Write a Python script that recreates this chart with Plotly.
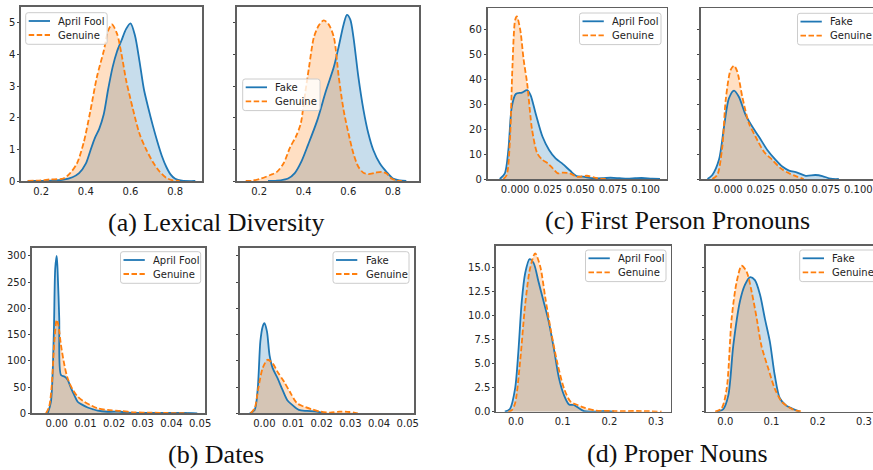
import plotly.graph_objects as go

W, H = 873, 470

# ---------------- data ----------------
# (a) Lexical Diversity
lex_af_x = [0.14, 0.25, 0.30, 0.34, 0.37, 0.40, 0.42, 0.44, 0.46, 0.48, 0.50, 0.52, 0.54, 0.56, 0.58, 0.60, 0.62, 0.64, 0.66, 0.68, 0.70, 0.72, 0.74, 0.76, 0.78, 0.80, 0.83, 0.89]
lex_af_y = [0.0, 0.01, 0.04, 0.12, 0.25, 0.55, 0.95, 1.35, 1.65, 2.1, 2.9, 3.6, 4.1, 4.45, 4.8, 4.98, 4.6, 3.8, 2.9, 2.3, 1.75, 1.25, 0.8, 0.45, 0.2, 0.07, 0.01, 0.0]
lex_gen1_x = [0.14, 0.20, 0.24, 0.30, 0.33, 0.36, 0.39, 0.42, 0.45, 0.48, 0.50, 0.517, 0.54, 0.56, 0.58, 0.61, 0.64, 0.67, 0.70, 0.73, 0.76, 0.79, 0.82]
lex_gen1_y = [0.0, 0.02, 0.05, 0.08, 0.25, 0.55, 1.2, 2.2, 3.3, 4.1, 4.75, 4.95, 4.65, 4.0, 3.2, 2.3, 1.5, 1.0, 0.6, 0.3, 0.1, 0.02, 0.0]
lex_fake_x = [0.24, 0.28, 0.33, 0.36, 0.39, 0.42, 0.46, 0.50, 0.535, 0.557, 0.579, 0.594, 0.609, 0.623, 0.645, 0.668, 0.69, 0.712, 0.741, 0.771, 0.80, 0.83, 0.86]
lex_fake_y = [0.0, 0.01, 0.08, 0.25, 0.62, 1.15, 1.9, 2.85, 3.6, 4.25, 4.95, 5.25, 5.1, 4.55, 3.3, 2.25, 1.5, 0.98, 0.56, 0.29, 0.08, 0.02, 0.0]
lex_gen2_x = [0.14, 0.17, 0.21, 0.25, 0.28, 0.31, 0.34, 0.365, 0.387, 0.402, 0.424, 0.446, 0.468, 0.49, 0.512, 0.535, 0.557, 0.579, 0.601, 0.623, 0.645, 0.668, 0.69, 0.72, 0.749, 0.771, 0.793, 0.815, 0.84]
lex_gen2_y = [0.0, 0.01, 0.08, 0.19, 0.29, 0.56, 1.08, 1.4, 1.82, 2.55, 3.6, 4.55, 4.92, 5.08, 4.95, 4.55, 3.3, 2.24, 1.5, 0.87, 0.45, 0.26, 0.22, 0.26, 0.29, 0.24, 0.08, 0.02, 0.0]

# (c) First Person Pronouns
fpp_af_x = [-0.0118, -0.0079, -0.0052, -0.0026, 0.0005, 0.0052, 0.0092, 0.0118, 0.0157, 0.021, 0.026, 0.031, 0.0366, 0.042, 0.047, 0.052, 0.06, 0.067, 0.073, 0.08, 0.086, 0.092, 0.097, 0.105, 0.111]
fpp_af_y = [0.0, 2.3, 11.7, 29.0, 34.2, 34.8, 35.8, 33.8, 26.4, 17.0, 11.7, 8.3, 6.0, 3.4, 1.2, 0.94, 0.3, 0.3, 0.5, 0.3, 0.13, 0.3, 0.4, 0.1, 0.0]
fpp_gen1_x = [-0.009, -0.0065, -0.004, -0.0021, 0.0, 0.0013, 0.0039, 0.0065, 0.0092, 0.013, 0.017, 0.021, 0.025, 0.0288, 0.0327, 0.0366, 0.042, 0.047, 0.051, 0.055, 0.063, 0.071]
fpp_gen1_y = [0.0, 1.6, 15.7, 45.0, 64.0, 65.4, 60.0, 48.0, 38.5, 19.7, 10.3, 7.7, 6.3, 4.3, 2.3, 2.6, 2.3, 0.9, 1.0, 1.3, 0.3, 0.0]
fpp_fake_x = [-0.016, -0.0123, -0.0072, -0.0033, 0.0005, 0.0044, 0.0082, 0.0133, 0.0185, 0.0236, 0.03, 0.0364, 0.0415, 0.0467, 0.053, 0.0595, 0.067, 0.0723, 0.0787, 0.085]
fpp_fake_y = [0.0, 1.6, 7.7, 21.0, 32.5, 35.6, 33.0, 25.8, 21.0, 17.0, 11.7, 7.7, 5.0, 3.4, 2.6, 1.3, 1.6, 1.2, 0.1, 0.0]
fpp_gen2_x = [-0.0123, -0.0085, -0.0046, -0.002, 0.0018, 0.0044, 0.0069, 0.0108, 0.0159, 0.021, 0.0274, 0.0338, 0.0403, 0.0467, 0.053, 0.058]
fpp_gen2_y = [0.0, 1.6, 13.0, 31.8, 43.9, 45.6, 43.2, 33.0, 22.4, 17.0, 11.0, 7.7, 4.3, 2.3, 0.94, 0.0]

# (b) Dates
dat_af_x = [-0.0031, -0.002, -0.001, -0.0005, 0.0, 0.0003, 0.0009, 0.0015, 0.0027, 0.0038, 0.005, 0.0061, 0.0073, 0.009, 0.0108, 0.0125, 0.0143, 0.0177, 0.0224, 0.0247, 0.033, 0.044, 0.049]
dat_af_y = [0, 22, 149, 276, 300, 276, 181, 73, 70, 64, 48, 35, 22, 16, 11, 8, 5, 3, 3, 1.3, 0.6, 0.6, 0]
dat_gen1_x = [-0.0037, -0.0026, -0.0017, -0.0008, 0.0, 0.0006, 0.0015, 0.0027, 0.0038, 0.0056, 0.0073, 0.0096, 0.012, 0.0143, 0.0177, 0.0224, 0.027, 0.033, 0.0386, 0.0456]
dat_gen1_y = [0, 13, 54, 137, 178, 168, 130, 92, 67, 45, 32, 22, 15, 9.5, 6.4, 4.5, 1.9, 1.3, 0.6, 0]
dat_fake_x = [-0.0051, -0.0034, -0.0023, -0.0014, -0.0006, 0.0, 0.0009, 0.0018, 0.0029, 0.0046, 0.0063, 0.008, 0.0097, 0.012, 0.0149, 0.0183, 0.0206]
dat_fake_y = [0, 6.4, 48, 137, 165, 171.6, 156, 111, 86, 67, 45, 25, 16, 6.4, 4.5, 3, 0]
dat_gen2_x = [-0.0048, -0.0034, -0.0021, -0.0006, 0.0011, 0.0029, 0.0046, 0.0069, 0.0092, 0.0114, 0.0137, 0.0166, 0.0195, 0.0229, 0.0263, 0.0297, 0.0326]
dat_gen2_y = [0, 9.5, 48, 86, 102, 95, 79, 60, 38, 19, 13, 7.6, 3.2, 1.3, 3.2, 2.5, 0]

# (d) Proper Nouns
pn_af_x = [-0.024, -0.013, -0.002, 0.005, 0.0123, 0.0195, 0.029, 0.0376, 0.0484, 0.059, 0.07, 0.081, 0.092, 0.103, 0.1135, 0.124, 0.135, 0.146, 0.175, 0.197, 0.21]
pn_af_y = [0.0, 0.28, 2.4, 6.25, 11.5, 14.4, 15.9, 15.5, 13.5, 11.5, 9.4, 6.6, 3.5, 1.7, 0.76, 0.7, 0.35, 0.05, 0.02, 0.07, 0.0]
pn_gen1_x = [-0.0166, -0.009, -0.002, 0.0087, 0.0195, 0.030, 0.041, 0.052, 0.063, 0.0738, 0.088, 0.103, 0.117, 0.132, 0.146, 0.168, 0.211, 0.269, 0.312]
pn_gen1_y = [0.0, 0.17, 0.87, 5.2, 11.1, 14.9, 16.5, 15.1, 11.8, 8.7, 5.2, 2.4, 1.04, 0.7, 0.42, 0.14, 0.07, 0.07, 0.0]
pn_fake_x = [-0.0187, -0.0043, 0.0065, 0.0173, 0.0317, 0.0424, 0.053, 0.064, 0.075, 0.0856, 0.0964, 0.107, 0.118, 0.132, 0.147, 0.161]
pn_fake_y = [0.0, 0.28, 1.7, 6.9, 11.5, 13.2, 14.0, 13.7, 12.2, 9.7, 7.3, 3.8, 1.4, 0.63, 0.28, 0.0]
pn_gen2_x = [-0.022, -0.008, 0.003, 0.0137, 0.0245, 0.0353, 0.046, 0.057, 0.068, 0.078, 0.093, 0.107, 0.122, 0.136, 0.15, 0.168]
pn_gen2_y = [0.0, 0.35, 2.4, 9.7, 13.5, 15.2, 14.6, 12.5, 9.7, 6.9, 4.5, 2.4, 1.04, 0.52, 0.17, 0.0]

# tick labels
lex_xticks = [0.2, 0.4, 0.6, 0.8]
lex_yticks = [0, 1, 2, 3, 4, 5]
fpp_xticks = [0.0, 0.025, 0.05, 0.075, 0.1]
fpp_xlabels = ["0.000", "0.025", "0.050", "0.075", "0.100"]
fpp_yticks = [0, 10, 20, 30, 40, 50, 60]
dat_xticks = [0.0, 0.01, 0.02, 0.03, 0.04, 0.05]
dat_xlabels = ["0.00", "0.01", "0.02", "0.03", "0.04", "0.05"]
dat_yticks = [0, 50, 100, 150, 200, 250, 300]
pn_xticks = [0.0, 0.1, 0.2, 0.3]
pn_xlabels = ["0.0", "0.1", "0.2", "0.3"]
pn_yticks = [0, 2.5, 5, 7.5, 10, 12.5, 15]
pn_ylabels = ["0.0", "2.5", "5.0", "7.5", "10.0", "12.5", "15.0"]

captions = ["(a) Lexical Diversity", "(c) First Person Pronouns", "(b) Dates", "(d) Proper Nouns"]

# ---------------- styling ----------------
BLUE = "#1f77b4"
ORANGE = "#ff7f0e"
BLUE_FILL = "rgba(31,119,180,0.25)"
ORANGE_FILL = "rgba(255,127,14,0.25)"
SPINE = "#606060"
TEXTC = "#222222"
TICKFONT = dict(family="DejaVu Sans", size=10, color=TEXTC)
DASH = "5.5px,2.5px"
LW = 1.8


def px_x(v):
    return v / W


def px_y(v):
    return 1 - v / H


panels = [
    dict(s1=(lex_af_x, lex_af_y, "April Fool"), s2=(lex_gen1_x, lex_gen1_y, "Genuine"),
         xd=(21, 202), yd=(7, 181), xr=[0.11, 0.92], yr=[0, 5.5],
         xt=(lex_xticks, None), yt=(lex_yticks, None), ylab=True, rmirror=True,
         leg=(25.7, 12.7, 107.2)),
    dict(s1=(lex_fake_x, lex_fake_y, "Fake"), s2=(lex_gen2_x, lex_gen2_y, "Genuine"),
         xd=(237, 419), yd=(7, 181), xr=[0.101, 0.917], yr=[0, 5.5],
         xt=(lex_xticks, None), yt=(lex_yticks, None), ylab=False, rmirror=True,
         leg=(242.7, 79, 320)),
    dict(s1=(fpp_af_x, fpp_af_y, "April Fool"), s2=(fpp_gen1_x, fpp_gen1_y, "Genuine"),
         xd=(487.5, 666.5), yd=(8.3, 179), xr=[-0.0212, 0.116], yr=[0, 68.7],
         xt=(fpp_xticks, fpp_xlabels), yt=(fpp_yticks, None), ylab=True, rmirror=True,
         leg=(579.5, 13, 661)),
    dict(s1=(fpp_fake_x, fpp_fake_y, "Fake"), s2=(fpp_gen2_x, fpp_gen2_y, "Genuine"),
         xd=(701, 873), yd=(8.3, 179), xr=[-0.021, 0.1113], yr=[0, 68.7],
         xt=(fpp_xticks, fpp_xlabels), yt=(fpp_yticks, None), ylab=False, rmirror=False,
         leg=(797.5, 13.3, 876.5)),
    dict(s1=(dat_af_x, dat_af_y, "April Fool"), s2=(dat_gen1_x, dat_gen1_y, "Genuine"),
         xd=(31.7, 205), yd=(247.7, 413.3), xr=[-0.0087, 0.0517], yr=[0, 315.6],
         xt=(dat_xticks, dat_xlabels), yt=(dat_yticks, None), ylab=True, rmirror=True,
         leg=(120.5, 251.7, 200.7)),
    dict(s1=(dat_fake_x, dat_fake_y, "Fake"), s2=(dat_gen2_x, dat_gen2_y, "Genuine"),
         xd=(240, 414.3), yd=(247.7, 413.3), xr=[-0.0085, 0.0523], yr=[0, 315.6],
         xt=(dat_xticks, dat_xlabels), yt=(dat_yticks, None), ylab=False, rmirror=True,
         leg=(333, 251.7, 409)),
    dict(s1=(pn_af_x, pn_af_y, "April Fool"), s2=(pn_gen1_x, pn_gen1_y, "Genuine"),
         xd=(496, 670.7), yd=(246, 411.7), xr=[-0.0429, 0.3315], yr=[0, 17.26],
         xt=(pn_xticks, pn_xlabels), yt=(pn_yticks, pn_ylabels), ylab=True, rmirror=True,
         leg=(585.5, 250, 666)),
    dict(s1=(pn_fake_x, pn_fake_y, "Fake"), s2=(pn_gen2_x, pn_gen2_y, "Genuine"),
         xd=(705.7, 873), yd=(246, 411.7), xr=[-0.0424, 0.3195], yr=[0, 17.26],
         xt=(pn_xticks, pn_xlabels), yt=(pn_yticks, pn_ylabels), ylab=False, rmirror=False,
         leg=(799.7, 250, 879)),
]

fig = go.Figure()
layout = dict(
    width=W, height=H,
    margin=dict(l=0, r=0, t=0, b=0, autoexpand=False),
    paper_bgcolor="white", plot_bgcolor="white",
    showlegend=False,
)
shapes = []
annotations = []


def legend_box(left, top, right, name1):
    """Matplotlib-style legend box drawn in paper pixels."""
    bottom = top + 31.6
    r = 2.5
    L, T, R, B = px_x(left), px_y(top), px_x(right), px_y(bottom)
    rx, ry = r / W, r / H
    path = (f"M {L + rx},{T} L {R - rx},{T} Q {R},{T} {R},{T - ry} "
            f"L {R},{B + ry} Q {R},{B} {R - rx},{B} L {L + rx},{B} Q {L},{B} {L},{B + ry} "
            f"L {L},{T - ry} Q {L},{T} {L + rx},{T} Z")
    shapes.append(dict(type="path", path=path, xref="paper", yref="paper",
                       fillcolor="rgba(255,255,255,0.8)", line=dict(color="#cccccc", width=1),
                       layer="above"))
    for k, (name, color, dash) in enumerate([(name1, BLUE, "solid"), ("Genuine", ORANGE, DASH)]):
        yy = top + 8.3 + 14 * k
        shapes.append(dict(type="line", xref="paper", yref="paper",
                           x0=px_x(left + 3), x1=px_x(left + 24.3), y0=px_y(yy), y1=px_y(yy),
                           line=dict(color=color, width=LW, dash=dash), layer="above"))
        annotations.append(dict(text=name, x=px_x(left + 30.5), y=px_y(yy), xref="paper", yref="paper",
                                xanchor="left", yanchor="middle", showarrow=False,
                                font=dict(family="DejaVu Sans", size=10, color=TEXTC)))


for i, p in enumerate(panels):
    n = i + 1
    xa = "x" if n == 1 else f"x{n}"
    ya = "y" if n == 1 else f"y{n}"
    (x1, y1, n1), (x2, y2, n2) = p["s1"], p["s2"]
    common = dict(xaxis=xa, yaxis=ya, mode="lines", hoverinfo="skip")
    fig.add_trace(go.Scatter(x=x1, y=y1, fill="tozeroy", fillcolor=BLUE_FILL, name=n1,
                             line=dict(width=0, shape="spline", smoothing=0.8), **common))
    fig.add_trace(go.Scatter(x=x2, y=y2, fill="tozeroy", fillcolor=ORANGE_FILL, name=n2,
                             line=dict(width=0, shape="spline", smoothing=0.8), **common))
    fig.add_trace(go.Scatter(x=x1, y=y1, name=n1,
                             line=dict(color=BLUE, width=LW, shape="spline", smoothing=0.8), **common))
    fig.add_trace(go.Scatter(x=x2, y=y2, name=n2,
                             line=dict(color=ORANGE, width=LW, dash=DASH, shape="spline", smoothing=0.8), **common))

    xkey = "xaxis" if n == 1 else f"xaxis{n}"
    ykey = "yaxis" if n == 1 else f"yaxis{n}"
    xt_vals, xt_text = p["xt"]
    yt_vals, yt_text = p["yt"]
    xax = dict(domain=[px_x(p["xd"][0]), min(px_x(p["xd"][1]), 1.0)], range=p["xr"], anchor=ya,
               showgrid=False, zeroline=False,
               showline=True, linecolor=SPINE, linewidth=1.7, mirror=True,
               ticks="", tickfont=TICKFONT, tickmode="array", tickvals=xt_vals, fixedrange=True)
    if xt_text is not None:
        xax["ticktext"] = xt_text
    yax = dict(domain=[px_y(p["yd"][1]), px_y(p["yd"][0])], range=p["yr"], anchor=xa,
               showgrid=False, zeroline=False,
               showline=True, linecolor=SPINE, linewidth=1.7, mirror=p["rmirror"],
               ticks="outside", ticklen=2, tickcolor="#444444", tickfont=TICKFONT,
               tickmode="array", tickvals=yt_vals, showticklabels=p["ylab"], fixedrange=True)
    if yt_text is not None:
        yax["ticktext"] = yt_text
    layout[xkey] = xax
    layout[ykey] = yax

    legend_box(*p["leg"], n1)

cap_pos = [(216, 223), (677, 220), (216, 454), (677, 453)]
for text, (cx, cy) in zip(captions, cap_pos):
    annotations.append(dict(text=text, x=px_x(cx), y=px_y(cy), xref="paper", yref="paper",
                            xanchor="center", yanchor="middle", showarrow=False,
                            font=dict(family="Liberation Serif", size=26, color="#111111")))
layout["annotations"] = annotations
layout["shapes"] = shapes

fig.update_layout(**layout)
fig.write_html("out.html", config={"displayModeBar": False, "staticPlot": True},
               post_script="document.body.style.margin='0px';document.body.style.overflow='hidden';")
